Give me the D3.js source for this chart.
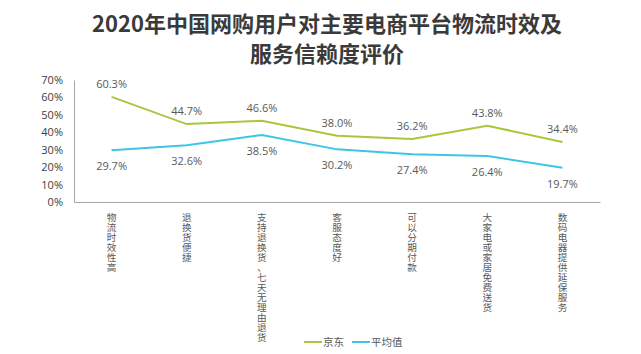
<!DOCTYPE html>
<html>

<head>
    <meta charset="utf-8">
    <title>物流时效及服务信赖度评价</title>
    <script src="https://d3js.org/d3.v7.min.js"></script>
    <style>
        body { margin: 0; background: #fff; }
        svg { display: block; font-family: "Noto Sans CJK SC", "Open Sans", sans-serif; }
    </style>
</head>

<body>
    <div id='view'></div>

    <script>
        var categories = ["物流时效性高", "退换货便捷", "支持退换货、七天无理由退货", "客服态度好",
            "可以分期付款", "大家电或家居免费送货", "数码电器提供延保服务"];
        var jd = [60.3, 44.7, 46.6, 38.0, 36.2, 43.8, 34.4];
        var avg = [29.7, 32.6, 38.5, 30.2, 27.4, 26.4, 19.7];
        var yTicks = [0, 10, 20, 30, 40, 50, 60, 70];
        var seriesNames = ["京东", "平均值"];
        var colors = ["#a8c83c", "#3ec5e6"];

        var width = 641;
        var height = 354;
        var plotLeft = 74, plotRight = 600, plotTop = 80, plotBottom = 202;

        var svg = d3.select("#view")
            .append("svg")
            .attr("width", width)
            .attr("height", height);

        // title
        var title = svg.append("text")
            .attr("text-anchor", "middle")
            .attr("font-size", 22)
            .attr("font-weight", "bold")
            .attr("fill", "#3a3a3a");
        title.append("tspan").attr("x", 327).attr("y", 32).text("2020年中国网购用户对主要电商平台物流时效及");
        title.append("tspan").attr("x", 327).attr("y", 62).text("服务信赖度评价");

        var x = d3.scaleBand().domain(categories).range([plotLeft, plotRight]);
        var y = d3.scaleLinear().domain([0, 70]).range([plotBottom, plotTop]);

        // y axis
        var yAxis = svg.append("g")
            .attr("transform", "translate(" + plotLeft + ",0)")
            .call(d3.axisLeft(y).tickValues(yTicks).tickSize(0).tickPadding(11)
                .tickFormat(function (d) { return d + "%"; }));
        yAxis.select("path").attr("stroke", "#a6a6a6");
        yAxis.selectAll("text")
            .attr("font-size", 11)
            .attr("fill", "#404040")
            .attr("font-family", "'Open Sans', sans-serif");

        // x axis
        var xAxis = svg.append("g")
            .attr("transform", "translate(0," + plotBottom + ")")
            .call(d3.axisBottom(x).tickSize(0).tickFormat(""));
        xAxis.select("path").attr("stroke", "#a6a6a6");

        // vertical category labels, one glyph per text
        categories.forEach(function (c) {
            var g = svg.append("g")
                .attr("transform", "translate(" + (x(c) + x.bandwidth() / 2) + ",0)");
            g.selectAll("text")
                .data(c.split(""))
                .enter()
                .append("text")
                .attr("x", 0)
                .attr("y", function (ch, i) { return 221 + i * 10; })
                .attr("text-anchor", "middle")
                .attr("font-size", 9.6)
                .attr("fill", "#595959")
                .text(function (ch) { return ch; });
        });

        var line = d3.line()
            .x(function (d, i) { return x(categories[i]) + x.bandwidth() / 2; })
            .y(function (d) { return y(d); });

        [jd, avg].forEach(function (s, k) {
            svg.append("path")
                .datum(s)
                .attr("fill", "none")
                .attr("stroke", colors[k])
                .attr("stroke-width", 2)
                .attr("d", line);

            svg.selectAll(".lab" + k)
                .data(s)
                .enter()
                .append("text")
                .attr("x", function (d, i) { return x(categories[i]) + x.bandwidth() / 2; })
                .attr("y", function (d) { return k === 0 ? y(d) - 9 : y(d) + 20; })
                .attr("text-anchor", "middle")
                .attr("font-size", 11)
                .attr("font-family", "'Open Sans', sans-serif")
                .attr("fill", "#595959")
                .text(function (d) { return d.toFixed(1) + "%"; });
        });

        // legend
        var legX = [304, 352];
        seriesNames.forEach(function (n, k) {
            svg.append("line")
                .attr("x1", legX[k]).attr("x2", legX[k] + 18)
                .attr("y1", 342).attr("y2", 342)
                .attr("stroke", colors[k])
                .attr("stroke-width", 2);
            svg.append("text")
                .attr("x", legX[k] + 19)
                .attr("y", 346)
                .attr("font-size", 10.5)
                .attr("fill", "#595959")
                .text(n);
        });
    </script>

</body>

</html>
